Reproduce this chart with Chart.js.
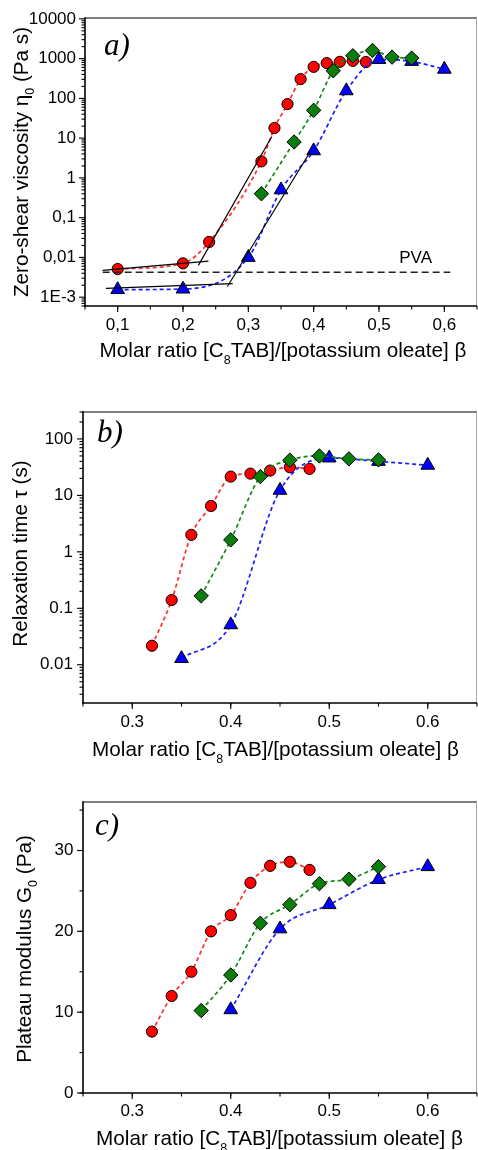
<!DOCTYPE html>
<html lang="en">
<head>
  <meta charset="UTF-8">
  <title>Viscosity, relaxation time and plateau modulus vs molar ratio</title>
  <style>
    html, body { margin: 0; padding: 0; background: #fff; }
    canvas { display: block; }
  </style>
</head>
<body>
  <canvas id="chartA" width="478" height="380"></canvas>
  <canvas id="chartB" width="478" height="390"></canvas>
  <canvas id="chartC" width="478" height="380"></canvas>

  <script src="https://cdn.jsdelivr.net/npm/chart.js@4"></script>
  <script>
    // ---- a) zero-shear viscosity (Pa s) ----
    const aRedX = [0.10, 0.20, 0.24, 0.32, 0.34, 0.36, 0.38, 0.40, 0.42, 0.44, 0.46, 0.48];
    const aRedY = [0.0051, 0.0071, 0.0245, 2.6, 18, 72, 305, 620, 770, 830, 880, 820];
    const aGreenX = [0.32, 0.37, 0.40, 0.43, 0.46, 0.49, 0.52, 0.55];
    const aGreenY = [0.40, 8.0, 50, 495, 1180, 1600, 1090, 1030];
    const aBlueX = [0.10, 0.20, 0.30, 0.35, 0.40, 0.45, 0.50, 0.55, 0.60];
    const aBlueY = [0.00155, 0.0016, 0.0100, 0.50, 4.8, 155, 950, 850, 540];

    // straight black construction lines and the PVA level
    const aRedBaseX = [0.077, 0.239];
    const aRedBaseY = [0.0047, 0.0081];
    const aRedRiseX = [0.2235, 0.336];
    const aRedRiseY = [0.0063, 11];
    const aBlueBaseX = [0.082, 0.276];
    const aBlueBaseY = [0.00166, 0.0022];
    const aBlueRiseX = [0.268, 0.395];
    const aBlueRiseY = [0.00185, 4.6];
    const pvaX = [0.077, 0.609];
    const pvaY = [0.00425, 0.00425];

    const aXTicks = [0.1, 0.2, 0.3, 0.4, 0.5, 0.6];
    const aXLabels = ['0,1', '0,2', '0,3', '0,4', '0,5', '0,6'];
    const aYTicks = [1e-3, 1e-2, 0.1, 1, 10, 100, 1000, 10000];
    const aYLabels = ['1E-3', '0,01', '0,1', '1', '10', '100', '1000', '10000'];

    // ---- b) relaxation time (s) ----
    const bRedX = [0.32, 0.34, 0.36, 0.38, 0.40, 0.42, 0.44, 0.46, 0.48];
    const bRedY = [0.0217, 0.14, 2.0, 6.5, 21.5, 24.3, 27.5, 31.5, 29.5];
    const bGreenX = [0.37, 0.40, 0.43, 0.46, 0.49, 0.52, 0.55];
    const bGreenY = [0.166, 1.63, 21.5, 42, 50, 44.3, 42.5];
    const bBlueX = [0.35, 0.40, 0.45, 0.50, 0.55, 0.60];
    const bBlueY = [0.0129, 0.051, 12.3, 46, 40, 34.2];

    const bcXTicks = [0.3, 0.4, 0.5, 0.6];
    const bcXLabels = ['0.3', '0.4', '0.5', '0.6'];
    const bYTicks = [0.01, 0.1, 1, 10, 100];
    const bYLabels = ['0.01', '0.1', '1', '10', '100'];

    // ---- c) plateau modulus (Pa) ----
    const cRedX = [0.32, 0.34, 0.36, 0.38, 0.40, 0.42, 0.44, 0.46, 0.48];
    const cRedY = [7.6, 12.0, 15.0, 20.0, 22.0, 26.0, 28.1, 28.6, 27.6];
    const cGreenX = [0.37, 0.40, 0.43, 0.46, 0.49, 0.52, 0.55];
    const cGreenY = [10.2, 14.6, 21.0, 23.3, 25.9, 26.45, 28.0];
    const cBlueX = [0.40, 0.45, 0.50, 0.55, 0.60];
    const cBlueY = [10.3, 20.3, 23.3, 26.4, 28.0];

    const cYTicks = [0, 10, 20, 30];
    const cYLabels = ['0', '10', '20', '30'];

    const SANS = "'Liberation Sans', Arial, sans-serif";
    const SERIF = "'Liberation Serif', 'Times New Roman', serif";
    const TITLE_SIZE = 20.7;

    const RED = { fill: '#ff0000', line: '#ff3030', shape: 'circle', r: 5.6 };
    const GREEN = { fill: '#0a7d0a', line: '#138a13', shape: 'rectRot', r: 7.2 };
    const BLUE = { fill: '#0000ff', line: '#1c1cff', shape: 'triangle', r: 7.9 };

    function pts(xs, ys) {
      return xs.map((x, i) => ({ x: x, y: ys[i] }));
    }

    function series(xs, ys, st) {
      return {
        data: pts(xs, ys),
        showLine: true,
        borderColor: st.line,
        borderWidth: 1.7,
        borderDash: [4, 3],
        cubicInterpolationMode: 'monotone',
        pointStyle: st.shape,
        pointRadius: st.r,
        pointHoverRadius: st.r,
        pointBackgroundColor: st.fill,
        pointBorderColor: '#000',
        pointBorderWidth: 1
      };
    }

    function guide(xs, ys, color, width, dash) {
      return {
        data: pts(xs, ys),
        showLine: true,
        borderColor: color,
        borderWidth: width,
        borderDash: dash,
        tension: 0,
        pointRadius: 0,
        pointHoverRadius: 0
      };
    }

    function line(ctx, x1, y1, x2, y2) {
      ctx.beginPath();
      ctx.moveTo(x1, y1);
      ctx.lineTo(x2, y2);
      ctx.stroke();
    }

    // minor tick values: 2..9 per decade on log axes, fixed step otherwise
    function minorValues(scale, step) {
      const out = [];
      if (step === 'log') {
        const lo = Math.floor(Math.log10(scale.min));
        const hi = Math.ceil(Math.log10(scale.max));
        for (let d = lo; d <= hi; d++) {
          for (let k = 2; k <= 9; k++) {
            const v = k * Math.pow(10, d);
            if (v >= scale.min && v <= scale.max) out.push(v);
          }
        }
      } else {
        for (let v = Math.ceil(scale.min / step - 1e-9) * step; v <= scale.max + 1e-9; v += step) out.push(v);
      }
      return out;
    }

    // text with subscript pieces, centred on (cx, baseline cy)
    function richText(ctx, parts, cx, cy, rotate) {
      const size = TITLE_SIZE, sub = size * 0.6;
      ctx.save();
      ctx.translate(cx, cy);
      if (rotate) ctx.rotate(-Math.PI / 2);
      ctx.fillStyle = '#000';
      ctx.textAlign = 'left';
      ctx.textBaseline = 'alphabetic';
      let w = 0;
      parts.forEach(p => {
        ctx.font = (p[1] ? sub : size) + 'px ' + SANS;
        w += ctx.measureText(p[0]).width;
      });
      let x = -w / 2;
      parts.forEach(p => {
        ctx.font = (p[1] ? sub : size) + 'px ' + SANS;
        ctx.fillText(p[0], x, p[1] ? size * 0.33 : 0);
        x += ctx.measureText(p[0]).width;
      });
      ctx.restore();
    }

    const framePlugin = {
      id: 'frame',
      beforeDatasetsDraw(chart, args, o) {
        const { ctx, chartArea: a, scales: { x, y } } = chart;
        ctx.save();
        ctx.strokeStyle = '#555';
        ctx.lineWidth = 1.5;
        line(ctx, a.left, a.top, a.right, a.top);
        ctx.strokeStyle = '#aaa';
        ctx.lineWidth = 1;
        line(ctx, a.right - 0.5, a.top, a.right - 0.5, a.bottom);

        ctx.strokeStyle = '#000';
        ctx.lineWidth = 1.1;
        minorValues(x, o.xMinor).forEach(v => {
          const p = x.getPixelForValue(v);
          line(ctx, p, a.bottom, p, a.bottom + 3.5);
        });
        x.ticks.forEach(t => {
          const p = x.getPixelForValue(t.value);
          line(ctx, p, a.bottom, p, a.bottom + 6);
        });
        minorValues(y, o.yMinor).forEach(v => {
          const p = y.getPixelForValue(v);
          line(ctx, a.left, p, a.left - 3.5, p);
        });
        y.ticks.forEach(t => {
          const p = y.getPixelForValue(t.value);
          line(ctx, a.left, p, a.left - 6, p);
        });

        ctx.lineWidth = 1.6;
        line(ctx, a.left, a.top - 0.75, a.left, a.bottom + 0.8);
        line(ctx, a.left - 0.8, a.bottom, a.right, a.bottom);
        ctx.restore();
      },
      afterDraw(chart, args, o) {
        const { ctx, scales: { x, y } } = chart;
        ctx.save();
        ctx.fillStyle = '#000';
        ctx.font = 'italic 31px ' + SERIF;
        ctx.textAlign = 'left';
        ctx.textBaseline = 'alphabetic';
        ctx.fillText(o.label[0], o.label[1], o.label[2]);
        if (o.note) {
          ctx.font = '17px ' + SANS;
          ctx.textAlign = 'center';
          ctx.fillText(o.note[0], x.getPixelForValue(o.note[1]), y.getPixelForValue(o.note[2]));
        }
        ctx.restore();
        richText(ctx, o.xTitle[0], o.xTitle[1], o.xTitle[2], false);
        richText(ctx, o.yTitle[0], o.yTitle[1], o.yTitle[2], true);
      }
    };

    function tickFont() {
      return { family: SANS, size: 17 };
    }

    function makeChart(id, c) {
      const L = c.box;
      return new Chart(document.getElementById(id), {
        type: 'scatter',
        data: { datasets: c.datasets },
        options: {
          responsive: false,
          animation: false,
          events: [],
          layout: { autoPadding: false, padding: { top: L.top, right: L.w - L.right, left: 0, bottom: 0 } },
          plugins: {
            legend: { display: false },
            tooltip: { enabled: false },
            frame: c.frame
          },
          scales: {
            x: {
              type: 'linear',
              min: c.x.min,
              max: c.x.max,
              grid: { display: false, drawTicks: false },
              border: { display: false },
              afterBuildTicks: s => { s.ticks = c.x.ticks.map(v => ({ value: v })); },
              afterFit: s => { s.height = L.h - L.bottom; s.paddingLeft = 0; s.paddingRight = 0; },
              ticks: {
                autoSkip: false,
                maxRotation: 0,
                padding: c.x.pad,
                color: '#000',
                font: tickFont(),
                callback: v => c.x.labels[c.x.ticks.indexOf(v)]
              }
            },
            y: {
              type: c.y.type,
              min: c.y.min,
              max: c.y.max,
              grid: { display: false, drawTicks: false },
              border: { display: false },
              afterBuildTicks: s => { s.ticks = c.y.ticks.map(v => ({ value: v })); },
              afterFit: s => { s.width = L.left; s.paddingTop = 0; s.paddingBottom = 0; },
              ticks: {
                autoSkip: false,
                padding: c.y.pad,
                color: '#000',
                font: tickFont(),
                callback: v => c.y.labels[c.y.ticks.indexOf(v)]
              }
            }
          }
        },
        plugins: [framePlugin]
      });
    }

    const xTitleParts = [['Molar ratio [C'], ['8', true], ['TAB]/[potassium oleate] \u03b2']];

    makeChart('chartA', {
      box: { w: 478, h: 380, left: 85, right: 477, top: 18, bottom: 306 },
      x: { min: 0.05, max: 0.65, ticks: aXTicks, labels: aXLabels, pad: 9 },
      y: { type: 'logarithmic', min: 6.3e-4, max: 1.05e4, ticks: aYTicks, labels: aYLabels, pad: 9 },
      datasets: [
        guide(pvaX, pvaY, '#222', 1.4, [7, 4]),
        guide(aRedBaseX, aRedBaseY, '#000', 1.2, []),
        guide(aRedRiseX, aRedRiseY, '#000', 1.2, []),
        guide(aBlueBaseX, aBlueBaseY, '#000', 1.2, []),
        guide(aBlueRiseX, aBlueRiseY, '#000', 1.2, []),
        series(aGreenX, aGreenY, GREEN),
        series(aBlueX, aBlueY, BLUE),
        series(aRedX, aRedY, RED)
      ],
      frame: {
        xMinor: 0.05,
        yMinor: 'log',
        label: ['a)', 104, 55],
        note: ['PVA', 0.556, 0.0071],
        xTitle: [xTitleParts, 283, 357],
        yTitle: [[['Zero-shear viscosity \u03b7'], ['0', true], [' (Pa s)']], 27.5, 162]
      }
    });

    makeChart('chartB', {
      box: { w: 478, h: 390, left: 83, right: 477, top: 32, bottom: 323 },
      x: { min: 0.25, max: 0.65, ticks: bcXTicks, labels: bcXLabels, pad: 9 },
      y: { type: 'logarithmic', min: 0.0021, max: 300, ticks: bYTicks, labels: bYLabels, pad: 10 },
      datasets: [
        series(bGreenX, bGreenY, GREEN),
        series(bBlueX, bBlueY, BLUE),
        series(bRedX, bRedY, RED)
      ],
      frame: {
        xMinor: 0.05,
        yMinor: 'log',
        label: ['b)', 97, 62],
        xTitle: [xTitleParts, 275.5, 376],
        yTitle: [[['Relaxation time \u03c4 (s)']], 27.3, 173.5]
      }
    });

    makeChart('chartC', {
      box: { w: 478, h: 380, left: 83, right: 477, top: 32, bottom: 323 },
      x: { min: 0.25, max: 0.65, ticks: bcXTicks, labels: bcXLabels, pad: 8.5 },
      y: { type: 'linear', min: 0, max: 36, ticks: cYTicks, labels: cYLabels, pad: 9.5 },
      datasets: [
        series(cGreenX, cGreenY, GREEN),
        series(cBlueX, cBlueY, BLUE),
        series(cRedX, cRedY, RED)
      ],
      frame: {
        xMinor: 0.05,
        yMinor: 5,
        label: ['c)', 95, 65],
        xTitle: [xTitleParts, 279.5, 375],
        yTitle: [[['Plateau modulus G'], ['0', true], [' (Pa)']], 30.5, 179]
      }
    });
  </script>
</body>
</html>
